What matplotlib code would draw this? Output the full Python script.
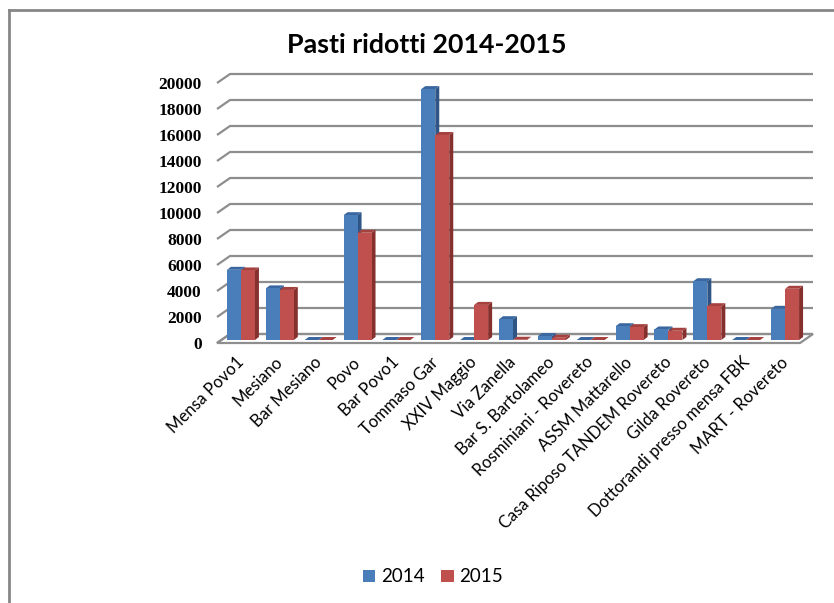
import matplotlib
matplotlib.use('Agg')
import matplotlib.pyplot as plt
from matplotlib.patches import Polygon, Rectangle
from matplotlib.lines import Line2D
import matplotlib.transforms as mtransforms

categories = ["Mensa Povo1", "Mesiano", "Bar Mesiano", "Povo", "Bar Povo1",
              "Tommaso Gar", "XXIV Maggio", "Via Zanella", "Bar S. Bartolameo",
              "Rosminiani - Rovereto", "ASSM Mattarello",
              "Casa Riposo TANDEM Rovereto", "Gilda Rovereto",
              "Dottorandi presso mensa FBK", "MART - Rovereto"]
v2014 = [5400, 3970, 0, 9600, 0, 19300, 0, 1600, 300, 0, 1060, 810, 4520, 0, 2400]
v2015 = [5350, 3850, 0, 8250, 0, 15770, 2700, 20, 170, 0, 990, 710, 2600, 0, 3940]
series = ["2014", "2015"]
yticks = list(range(0, 20001, 2000))
title = "Pasti ridotti 2014-2015"

W, H = 834, 603
fig = plt.figure(figsize=(W / 100, H / 100), dpi=100)
fig.patch.set_facecolor('white')

# front plane of the 3D box
x0px, x1px, y0px, y1px = 217, 800, 343, 83
ax = fig.add_axes([x0px / W, 1 - y0px / H, (x1px - x0px) / W, (y0px - y1px) / H])
n = len(categories)
ax.set_xlim(-0.5, n - 0.5)
ax.set_ylim(0, 20000)
ax.set_facecolor('none')
for s in ax.spines.values():
    s.set_visible(False)

pxx = (x1px - x0px) / n          # px per category
pxy = (y0px - y1px) / 20000.0    # px per unit
ddx, ddy = 13 / pxx, 9 / pxy     # wall depth
bx, by = 4.5 / pxx, 3 / pxy      # bar row offset
bdx, bdy = 4 / pxx, 3 / pxy      # bar depth
bw = 0.36

grid_c = '#8e8e8e'
# floor
floor = Polygon([(-0.5, 0), (n - 0.5, 0), (n - 0.5 + ddx, ddy), (-0.5 + ddx, ddy)],
                closed=True, facecolor='white', edgecolor=grid_c, lw=1.6,
                clip_on=False, zorder=1)
ax.add_patch(floor)
for v in yticks:
    ax.plot([-0.5, -0.5 + ddx, n - 0.5 + ddx], [v, v + ddy, v + ddy],
            color=grid_c, lw=1.6, clip_on=False, zorder=1, solid_capstyle='butt')

cols = {
    "2014": ('#4a7ebb', '#3a67a0', '#2f5586'),
    "2015": ('#c0504d', '#a5423f', '#86302e'),
}
z = 3
for i in range(n):
    for k, (name, vals) in enumerate(zip(series, [v2014, v2015])):
        front, top, side = cols[name]
        v = vals[i]
        xl = i + bx - bw + k * bw
        xr = xl + bw
        yb = by
        yt = by + v
        ax.add_patch(Polygon([(xr, yb), (xr, yt), (xr + bdx, yt + bdy), (xr + bdx, yb + bdy)],
                             closed=True, facecolor=side, edgecolor='none', zorder=z, clip_on=False))
        ax.add_patch(Polygon([(xl, yt), (xr, yt), (xr + bdx, yt + bdy), (xl + bdx, yt + bdy)],
                             closed=True, facecolor=top, edgecolor='none', zorder=z, clip_on=False))
        ax.add_patch(Rectangle((xl, yb), bw, v, facecolor=front, edgecolor='none',
                               zorder=z, clip_on=False))
        z += 1

ax.set_yticks(yticks)
ax.set_yticklabels([str(t) for t in yticks], fontfamily='Liberation Serif',
                   fontweight='bold', fontsize=12.5)
ax.tick_params(axis='y', length=0, pad=11)
ax.set_xticks(range(n))
ax.set_xticklabels(categories, rotation=45, ha='right', va='center',
                   rotation_mode='anchor', fontfamily='Lato', fontsize=12)
ax.tick_params(axis='x', length=0, pad=12)
off = mtransforms.ScaledTranslation(5 / 100, 0, fig.dpi_scale_trans)
for lab in ax.get_xticklabels():
    lab.set_transform(lab.get_transform() + off)

fig.text(427 / W, 1 - 45 / H, title, ha='center', va='center',
         fontfamily='Lato', fontweight='bold', fontsize=19.3)

# legend
handles = [Rectangle((0, 0), 1, 1, facecolor=cols[s][0]) for s in series]
leg = fig.legend(handles, series, loc='center', bbox_to_anchor=(433 / W, 1 - 577 / H),
                 ncol=2, frameon=False, prop={'family': 'Lato', 'size': 13.5},
                 handlelength=0.65, handleheight=0.65, handletextpad=0.3, columnspacing=0.9)

# outer frame (left and top only visible)
fig.add_artist(Line2D([8.5 / W, 8.5 / W], [0, 1 - 10 / H], transform=fig.transFigure,
                      color='#868686', lw=2))
fig.add_artist(Line2D([8.5 / W, 1], [1 - 10 / H, 1 - 10 / H], transform=fig.transFigure,
                      color='#868686', lw=2))

fig.savefig('out.png', dpi=100)
